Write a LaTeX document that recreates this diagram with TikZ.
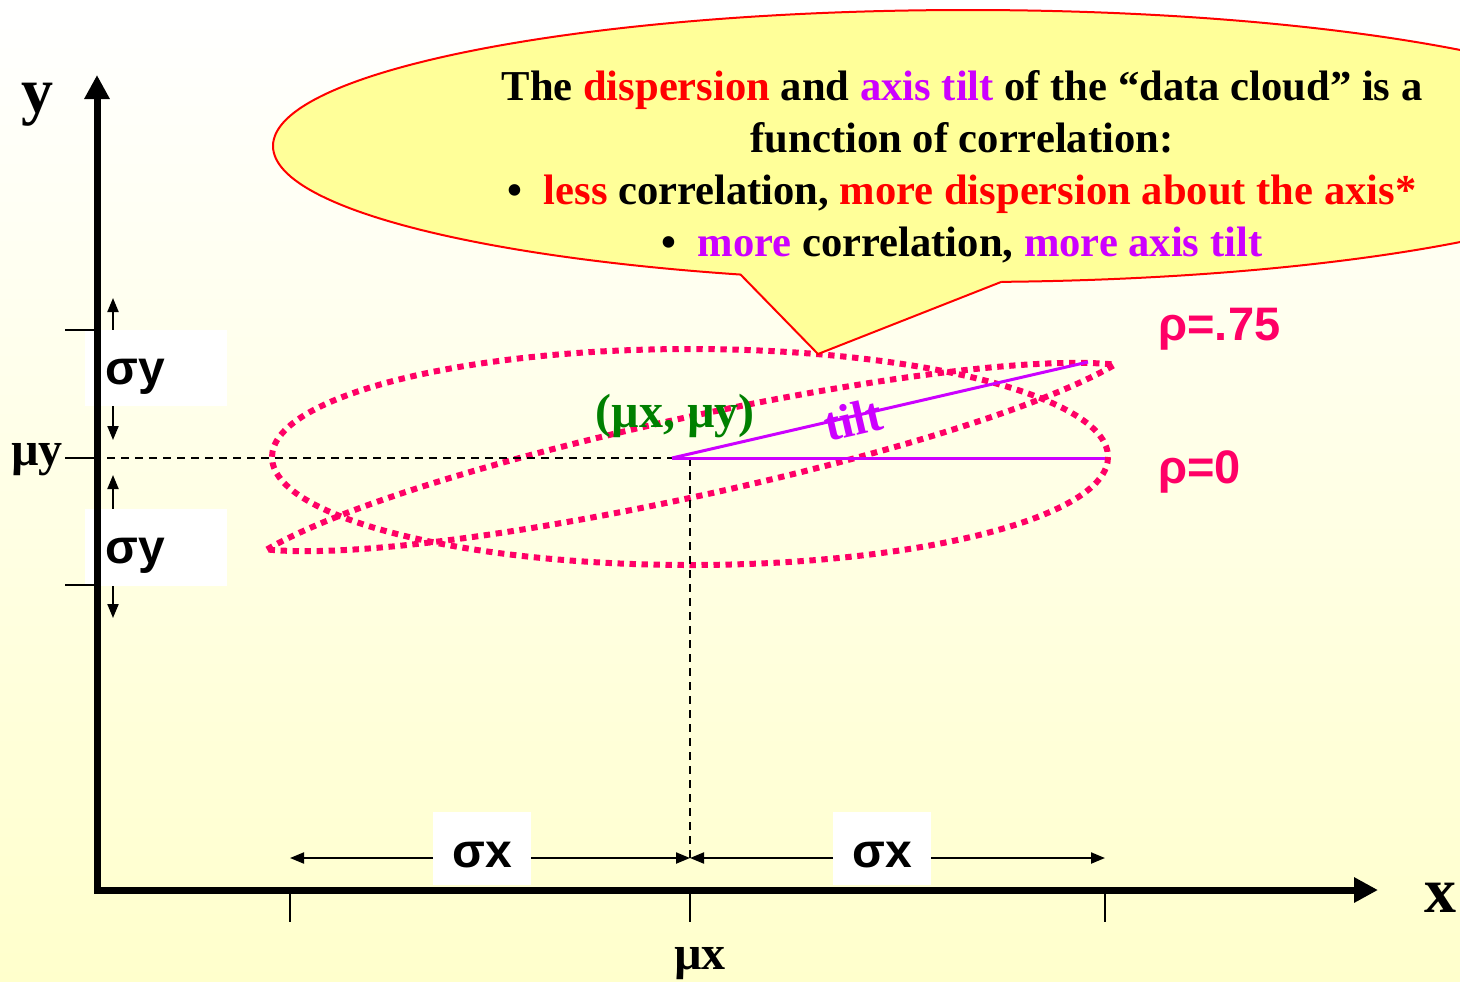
\documentclass[tikz,border=0pt]{standalone}
\usepackage{fontspec}
\setmainfont{Liberation Serif}
\setsansfont{Liberation Sans}
\usetikzlibrary{arrows.meta}
\definecolor{bgyellow}{HTML}{FFFFCC}
\definecolor{callfill}{HTML}{FFFF99}
\definecolor{rhopink}{HTML}{FF0066}
\definecolor{tiltpurple}{HTML}{CC00FF}
\definecolor{mugreen}{HTML}{008000}
\begin{document}
\begin{tikzpicture}[x=0.5pt, y=-0.5pt,
    axis/.style={line width=3.5pt, {Triangle[length=12pt,width=12pt]}-{Triangle[length=12pt,width=12pt]}},
    tick/.style={line width=1pt},
    guide/.style={line width=1pt, dash pattern=on 4pt off 3pt},
    sdarrow/.style={line width=1pt, {Triangle[length=7pt,width=5.5pt]}-{Triangle[length=7pt,width=5.5pt]}},
    cloud/.style={rhopink, line width=3pt, dash pattern=on 3.2pt off 2.8pt},
    sigbox/.style={fill=white, inner sep=0pt, font=\sffamily\bfseries\fontsize{24}{28}\selectfont},
    rholabel/.style={rhopink, anchor=base west, inner xsep=0pt, font=\sffamily\bfseries\fontsize{23.5}{28}\selectfont},
    axlabel/.style={font=\bfseries\fontsize{32}{36}\selectfont},
    mulabel/.style={font=\bfseries\fontsize{24}{28}\selectfont}]
  \useasboundingbox (0,0) rectangle (1460,981);
  \shade[top color=white, bottom color=bgyellow] (0,0) rectangle (1460,981);

  % key points
  \coordinate (mu) at (690,458);
  \coordinate (tiltstart) at (672,458);
  \coordinate (tiltend) at (1088,362);
  \coordinate (zeroend) at (1105,458);

  % data clouds: rho=0 and rho=.75
  \draw[cloud] (690,457) ellipse (418 and 108);
  \begin{scope}[shift={(691,457)}, rotate=12.3]
    \draw[cloud] (-434,0) .. controls (-271,-53) and (271,-53) .. (434,0)
      .. controls (271,53) and (-271,53) .. (-434,0) -- cycle;
  \end{scope}

  % mean lines and tilt
  \draw[guide] (65,458) -- (tiltstart);
  \draw[guide] (mu) -- (690,858);
  \draw[tiltpurple, line width=1.5pt] (tiltstart) -- (zeroend);
  \draw[tiltpurple, line width=1.5pt] (tiltstart) -- (tiltend);

  % callout
  \filldraw[fill=callfill, draw=red, line width=1pt] (968,146) ellipse (695 and 136);
  \fill[callfill] (740,274) -- (818,354) -- (1001,282) -- (1001,264) -- (740,258) -- cycle;
  \draw[red, line width=1pt] (740,274) -- (818,354) -- (1001,282);
  \node[font=\bfseries\fontsize{21.3}{26}\selectfont, align=center] (note) at (962,167)
    {The \textcolor{red}{dispersion} and \textcolor{tiltpurple}{axis tilt} of the “data cloud” is a\\
     function of correlation:\\
     •\ \ \textcolor{red}{less} correlation, \textcolor{red}{more dispersion about the axis*}\\
     •\ \ \textcolor{tiltpurple}{more} correlation, \textcolor{tiltpurple}{more axis tilt}};

  % labels
  \node[mulabel, mugreen] (center) at (675,416) {(µx, µy)};
  \node[mulabel, tiltpurple, rotate=13] (tilt) at (853,419) {tilt};
  \node[rholabel] (rho75) at (1158,340) {ρ=.75};
  \node[rholabel] (rho0) at (1158,483) {ρ=0};

  % sigma arrows
  \draw[sdarrow] (113,298) -- (113,440);
  \draw[sdarrow] (113,475) -- (113,618);
  \draw[sdarrow] (290,858) -- (690,858);
  \draw[sdarrow] (690,858) -- (1105,858);
  \node[sigbox, anchor=north west, minimum width=71pt, minimum height=38pt,
    text width=51pt, inner xsep=10pt, align=left,
    text height=20.7pt, text depth=5pt] (sy1) at (85,330) {σy};
  \node[sigbox, anchor=north west, minimum width=71pt, minimum height=38.5pt,
    text width=51pt, inner xsep=10pt, align=left,
    text height=20.7pt, text depth=5pt] (sy2) at (85,509) {σy};
  \node[sigbox, minimum width=49pt, minimum height=36.5pt,
    text height=19.4pt, text depth=0pt] (sx1) at (482,848.5) {σx};
  \node[sigbox, minimum width=49pt, minimum height=36.5pt,
    text height=19.4pt, text depth=0pt] (sx2) at (882,848.5) {σx};

  % ticks
  \foreach \ty in {330,458,585}
    \draw[tick] (65,\ty) -- (97,\ty);
  \foreach \tx in {290,690,1105}
    \draw[tick] (\tx,893) -- (\tx,922);

  % axes
  \draw[axis] (97,75) -- (97,890) -- (1378,890);
  \node[axlabel] (ylab) at (37,105) {y};
  \node[axlabel] (xlab) at (1440,898) {x};
  \node[mulabel] (muy) at (37,460) {µy};
  \node[mulabel] (mux) at (700,964) {µx};
\end{tikzpicture}
\end{document}
